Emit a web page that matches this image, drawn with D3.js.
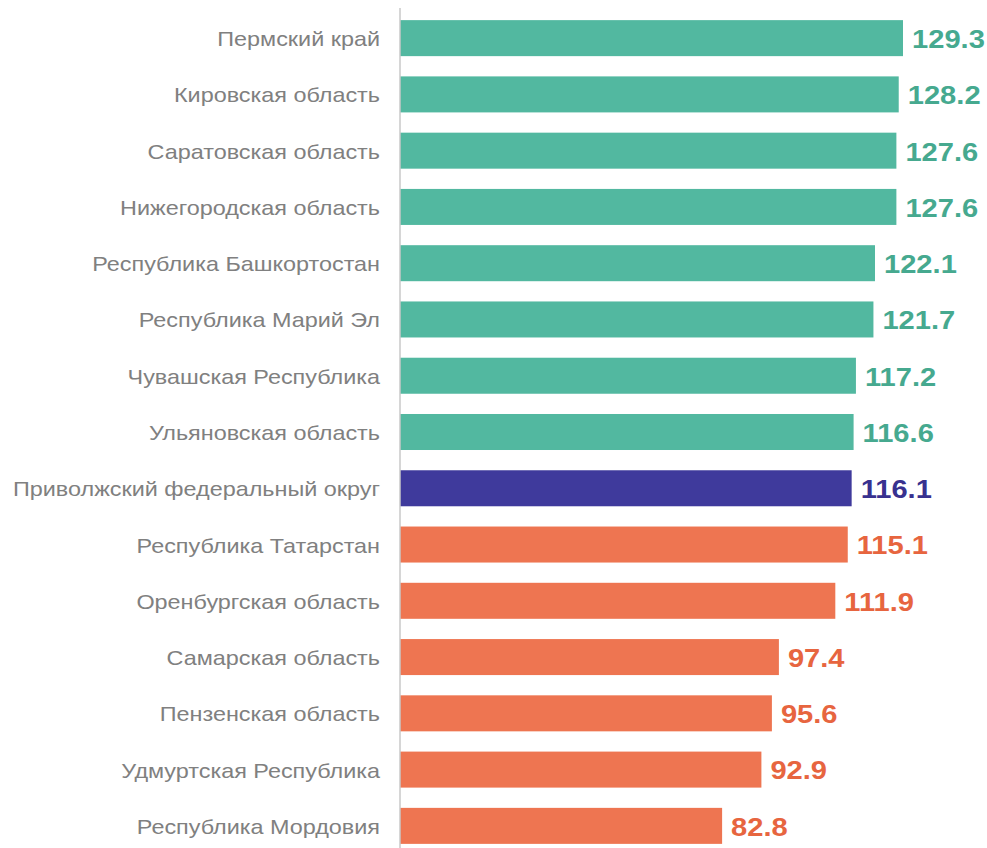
<!DOCTYPE html>
<html>
<head>
<meta charset="utf-8">
<script src="https://cdn.jsdelivr.net/npm/d3@7"></script>
<style>
  body { margin: 0; background: #fff; }
  svg text { font-family: "Liberation Sans", Arial, sans-serif; }
</style>
</head>
<body>
<div id="chart"></div>
<script>
const regions = [
  "Пермский край",
  "Кировская область",
  "Саратовская область",
  "Нижегородская область",
  "Республика Башкортостан",
  "Республика Марий Эл",
  "Чувашская Республика",
  "Ульяновская область",
  "Приволжский федеральный округ",
  "Республика Татарстан",
  "Оренбургская область",
  "Самарская область",
  "Пензенская область",
  "Удмуртская Республика",
  "Республика Мордовия"
];
const values = [129.3, 128.2, 127.6, 127.6, 122.1, 121.7, 117.2, 116.6, 116.1, 115.1, 111.9, 97.4, 95.6, 92.9, 82.8];
const groups = ["above", "above", "above", "above", "above", "above", "above", "above", "district", "below", "below", "below", "below", "below", "below"];

const width = 987;
const height = 848;
const margin = { top: 10, right: 84, bottom: -6, left: 400 };

const barColor = { above: "#52b8a0", district: "#3f3a9c", below: "#ee7551" };
const textColor = { above: "#46a98f", district: "#38318f", below: "#e7653f" };

// the picture is a bit wider than tall, so text gets a horizontal stretch
const labelStretch = 1.17;
const valueStretch = 1.12;

let data = regions.map((r, i) => ({ name: r, value: values[i], group: groups[i] }));

let x = d3.scaleLinear()
  .domain([0, 129.3])
  .range([margin.left, width - margin.right]);

let y = d3.scaleBand()
  .domain(regions)
  .range([margin.top, height - margin.bottom])
  .paddingInner(0.36)
  .paddingOuter(0.18);

let svg = d3.select("#chart")
  .append("svg")
  .attr("width", width)
  .attr("height", height);

svg.selectAll("rect.bar")
  .data(data)
  .enter()
  .append("rect")
  .attr("class", "bar")
  .attr("x", x(0))
  .attr("y", (d) => y(d.name))
  .attr("width", (d) => x(d.value) - x(0))
  .attr("height", y.bandwidth())
  .attr("fill", (d) => barColor[d.group]);

// category axis
let axis = svg.append("g")
  .attr("transform", "translate(" + x(0) + ",0)")
  .call(d3.axisLeft(y).tickSize(0).tickPadding(20));
axis.select(".domain")
  .attr("stroke", "#c8c8c8")
  .attr("stroke-width", 1.5)
  .attr("d", "M0,8V848");
axis.selectAll("text")
  .attr("fill", "#808080")
  .attr("x", -20 / labelStretch)
  .attr("dy", "0.4em")
  .attr("transform", "scale(" + labelStretch + ",1)")
  .style("font-size", "20px")
  .style("font-family", "'Liberation Sans', Arial, sans-serif");

// value labels
svg.selectAll("text.value")
  .data(data)
  .enter()
  .append("text")
  .attr("class", "value")
  .attr("transform", (d) =>
    "translate(" + (x(d.value) + 9) + "," + (y(d.name) + y.bandwidth() / 2) + ") scale(" + valueStretch + ",1)")
  .attr("dy", "0.38em")
  .attr("fill", (d) => textColor[d.group])
  .style("font-size", "26px")
  .style("font-weight", "bold")
  .text((d) => d.value.toFixed(1));
</script>
</body>
</html>
